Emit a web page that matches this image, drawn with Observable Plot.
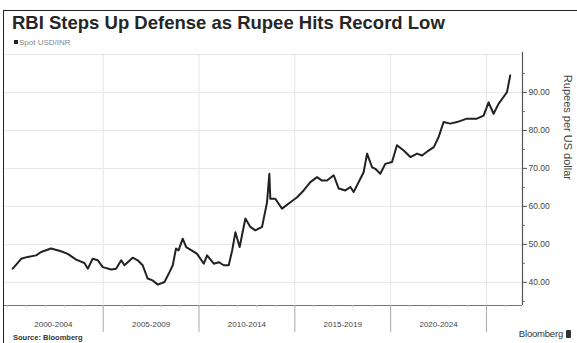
<!DOCTYPE html>
<html>
<head>
<meta charset="utf-8">
<script src="https://cdn.jsdelivr.net/npm/d3@7"></script>
<script src="https://cdn.jsdelivr.net/npm/@observablehq/plot@0.6"></script>
<style>
  body { margin: 0; background: #fff; font-family: "Liberation Sans", Arial, sans-serif; }
  #wrap { position: relative; width: 577px; height: 343px; overflow: hidden; background: #fff; }
  #border { position: absolute; left: 3px; top: 10px; right: -2px; bottom: -2px; border-top: 1.5px solid #222; border-left: 1.5px solid #222; }
  #title { position: absolute; left: 12px; top: 12px; font-weight: bold; font-size: 18.5px; color: #262626; white-space: nowrap; }
  #legend { position: absolute; left: 14px; top: 38px; font-size: 8px; color: #888; white-space: nowrap; }
  #legend span.sw { display: inline-block; width: 4px; height: 4px; background: #222; margin-right: 1px; vertical-align: 1px; }
  #chart { position: absolute; left: 0; top: 48px; }
  #source { position: absolute; left: 13px; top: 333px; font-size: 7.5px; font-weight: bold; color: #333; white-space: nowrap; }
  #brand { position: absolute; right: 6px; top: 328px; font-size: 9.5px; color: #333; white-space: nowrap; letter-spacing: -0.2px; }
  #brand span.ic { display: inline-block; width: 5px; height: 8px; background: #333; border-radius: 1px; margin-left: 3px; vertical-align: -1px; }
</style>
</head>
<body>
<div id="wrap">
  <div id="border"></div>
  <div id="title">RBI Steps Up Defense as Rupee Hits Record Low</div>
  <div id="legend"><span class="sw"></span>Spot USD/INR</div>
  <div id="chart"></div>
  <div id="source">Source: Bloomberg</div>
  <div id="brand">Bloomberg<span class="ic"></span></div>
</div>
<script>
// Spot USD/INR (decimal year, rupees per dollar)
const years = [
  2000.28, 2000.72, 2001.06, 2001.5, 2001.76, 2002.28, 2002.8, 2003.15, 2003.59, 2004.02,
  2004.2, 2004.45, 2004.72, 2004.98, 2005.41, 2005.67, 2005.94, 2006.11, 2006.54, 2006.8,
  2007.06, 2007.32, 2007.58, 2007.85, 2008.2, 2008.46, 2008.63, 2008.8, 2008.93, 2009.15,
  2009.33, 2009.59, 2009.9, 2010.25, 2010.42, 2010.77, 2011.03, 2011.29, 2011.55, 2011.73,
  2011.9, 2012.12, 2012.42, 2012.68, 2012.94, 2013.29, 2013.55, 2013.67, 2013.72, 2013.98,
  2014.33, 2014.77, 2015.12, 2015.46, 2015.81, 2016.16, 2016.42, 2016.68, 2017.03, 2017.29,
  2017.64, 2017.9, 2018.07, 2018.33, 2018.59, 2018.77, 2019.03, 2019.2, 2019.46, 2019.72,
  2020.07, 2020.33, 2020.68, 2021.03, 2021.38, 2021.64, 2021.98, 2022.25, 2022.5, 2022.76,
  2023.11, 2023.46, 2023.98, 2024.5, 2024.85, 2025.11, 2025.37, 2025.63, 2025.89, 2026.07,
  2026.24
];
const values = [
  43.6, 46.2, 46.7, 47.1, 48.0, 48.9, 48.2, 47.5, 46.0, 45.1,
  43.6, 46.2, 45.8, 44.0, 43.4, 43.6, 45.8, 44.5, 46.5, 45.8,
  44.5, 41.0, 40.5, 39.4, 40.1, 42.7, 44.5, 48.9, 48.4, 51.5,
  49.3, 48.5, 47.5, 44.9, 47.1, 44.9, 45.3, 44.5, 44.5, 48.4,
  53.2, 49.3, 56.8, 54.6, 53.7, 54.6, 61.1, 68.6, 62.0, 62.0,
  59.4, 61.1, 62.4, 64.2, 66.4, 67.7, 66.8, 66.8, 68.2, 64.7,
  64.2, 65.1, 63.8, 66.4, 69.0, 73.9, 70.3, 69.9, 68.6, 71.2,
  71.7, 76.1, 74.7, 73.0, 73.9, 73.4, 74.7, 75.6, 78.2, 82.2,
  81.8, 82.2, 83.1, 83.1, 83.9, 87.4, 84.4, 87.0, 88.8, 90.1,
  94.5
];
const yTicks = [40, 50, 60, 70, 80, 90];
const yMinorTicks = [35, 45, 55, 65, 75, 85, 95];
const yGrid = [40, 50, 60, 70, 80, 90, 100];
const separators = [2005, 2010, 2015, 2020, 2025];
const periodLabels = ["2000-2004", "2005-2009", "2010-2014", "2015-2019", "2020-2024"];
const periodCenters = [2002.4, 2007.5, 2012.5, 2017.5, 2022.5];
const yearTicks = d3.range(2000, 2027);

const data = years.map((y, i) => ({year: y, value: values[i]}));
const xDom = [1999.85, 2026.88];
const yDom = [33.9, 100];

const chart = Plot.plot({
  width: 577,
  height: 290,
  marginLeft: 4,
  marginRight: 55,
  marginTop: 6,
  marginBottom: 33,
  x: {domain: xDom, axis: null},
  y: {domain: yDom, axis: null},
  style: {fontFamily: "'Liberation Sans', Arial, sans-serif", background: "transparent", color: "#444"},
  marks: [
    Plot.ruleY(yGrid, {x1: xDom[0], x2: xDom[1], stroke: "#e6e6e6", strokeWidth: 1}),
    Plot.ruleX(separators, {y1: yDom[0], y2: yDom[1], stroke: "#e6e6e6", strokeWidth: 1}),
    Plot.line(data, {x: "year", y: "value", stroke: "#222", strokeWidth: 2, strokeLinejoin: "round"}),
    // right axis
    Plot.ruleX([xDom[1]], {y1: yDom[0], y2: 100.6, stroke: "#555", strokeWidth: 1.2}),
    Plot.axisY({anchor: "right", label: null, ticks: yTicks, tickFormat: d => d.toFixed(2), tickSize: 4, tickPadding: 2, fontSize: 8.5, stroke: "#555"}),
    Plot.axisY({anchor: "right", label: null, ticks: yMinorTicks, tickFormat: () => "", tickSize: 2, stroke: "#777"}),
    Plot.text(["Rupees per US dollar"], {frameAnchor: "right", dx: 45, rotate: 90, fontSize: 11, fill: "#444"}),
    // bottom axis
    Plot.ruleY([yDom[0]], {x1: xDom[0], x2: xDom[1], stroke: "#777", strokeWidth: 1.2}),
    Plot.axisX({label: null, ticks: yearTicks, tickFormat: () => "", tickSize: 2, stroke: "#bbb"}),
    Plot.axisX({label: null, ticks: separators, tickFormat: () => "", tickSize: 27, stroke: "#aaa"}),
    Plot.axisX({label: null, ticks: periodCenters, tickSize: 0, tickPadding: 16, fontSize: 8, fill: "#444",
      tickFormat: (d) => periodLabels[periodCenters.indexOf(d)]})
  ]
});
document.getElementById("chart").appendChild(chart);
</script>
</body>
</html>
